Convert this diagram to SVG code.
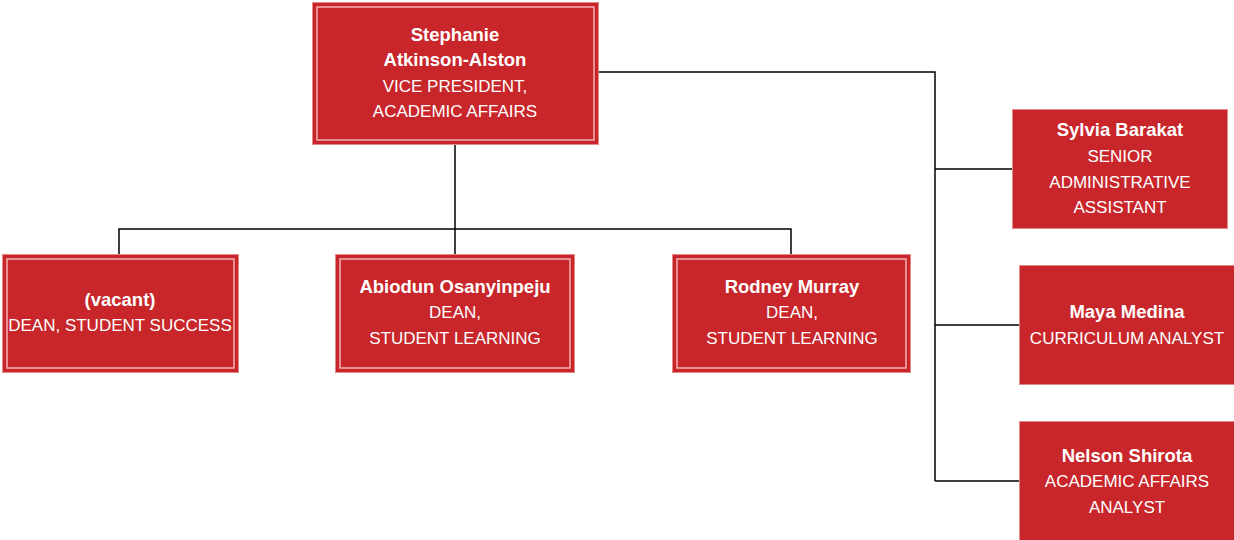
<svg xmlns="http://www.w3.org/2000/svg" width="1234" height="540" viewBox="0 0 1234 540">
<style>
.box{fill:#C8262A;stroke:#E58A8A;stroke-width:1}
.inner{fill:none;stroke:#F2B3B3;stroke-width:1.5}
.t{font-family:"Liberation Sans",Arial,sans-serif;font-size:17px;fill:#fff;text-anchor:middle}
.b{font-weight:bold;font-size:18.5px}
.c{fill:none;stroke:#000;stroke-width:1.5}
</style>
<rect width="1234" height="540" fill="#fff"/>
<g id="connectors">
<path class="c" d="M455 144V229M119 254V229H791V254M455 229V254"/>
<path class="c" d="M598 72H935V481M935 169H1012M935 325H1019M935 481H1019"/>
</g>
<g id="vp">
<rect class="box" x="312.5" y="2.5" width="286" height="142"/>
<rect class="inner" x="317" y="7" width="277" height="133"/>
<text class="t b" x="455" y="41">Stephanie</text>
<text class="t b" x="455" y="66">Atkinson-Alston</text>
<text class="t" x="455" y="92">VICE PRESIDENT,</text>
<text class="t" x="455" y="117">ACADEMIC AFFAIRS</text>
</g>
<g id="vacant">
<rect class="box" x="2.5" y="254.5" width="236" height="118"/>
<rect class="inner" x="7" y="259" width="227" height="109"/>
<text class="t b" x="120" y="306">(vacant)</text>
<text class="t" x="120" y="331">DEAN, STUDENT SUCCESS</text>
</g>
<g id="abiodun">
<rect class="box" x="335.5" y="254.5" width="239" height="118"/>
<rect class="inner" x="340" y="259" width="230" height="109"/>
<text class="t b" x="455" y="293">Abiodun Osanyinpeju</text>
<text class="t" x="455" y="318">DEAN,</text>
<text class="t" x="455" y="344">STUDENT LEARNING</text>
</g>
<g id="rodney">
<rect class="box" x="672.5" y="254.5" width="238" height="118"/>
<rect class="inner" x="677" y="259" width="229" height="109"/>
<text class="t b" x="792" y="293">Rodney Murray</text>
<text class="t" x="792" y="318">DEAN,</text>
<text class="t" x="792" y="344">STUDENT LEARNING</text>
</g>
<g id="sylvia">
<rect class="box" x="1012.5" y="109.5" width="215" height="119"/>
<text class="t b" x="1120" y="136">Sylvia Barakat</text>
<text class="t" x="1120" y="162">SENIOR</text>
<text class="t" x="1120" y="188">ADMINISTRATIVE</text>
<text class="t" x="1120" y="213">ASSISTANT</text>
</g>
<g id="maya">
<rect class="box" x="1019.5" y="265.5" width="215" height="119"/>
<text class="t b" x="1127" y="318">Maya Medina</text>
<text class="t" x="1127" y="344">CURRICULUM ANALYST</text>
</g>
<g id="nelson">
<rect class="box" x="1019.5" y="421.5" width="215" height="119"/>
<text class="t b" x="1127" y="462">Nelson Shirota</text>
<text class="t" x="1127" y="487">ACADEMIC AFFAIRS</text>
<text class="t" x="1127" y="513">ANALYST</text>
</g>
</svg>
